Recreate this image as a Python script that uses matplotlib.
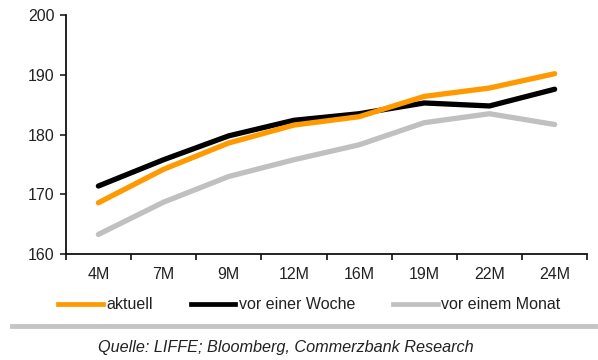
import matplotlib
matplotlib.use("Agg")
import matplotlib.pyplot as plt
from matplotlib.lines import Line2D

# data
tenors = ["4M", "7M", "9M", "12M", "16M", "19M", "22M", "24M"]
aktuell = [168.6, 174.2, 178.6, 181.6, 183.0, 186.4, 187.8, 190.2]
vor_woche = [171.4, 175.8, 179.8, 182.4, 183.5, 185.3, 184.8, 187.6]
vor_monat = [163.3, 168.7, 173.0, 175.8, 178.3, 182.0, 183.5, 181.7]

series = [
    ("aktuell", aktuell, "#FF9900"),
    ("vor einer Woche", vor_woche, "#000000"),
    ("vor einem Monat", vor_monat, "#C0C0C0"),
]

plt.rcParams['font.family'] = ['Liberation Sans', 'DejaVu Sans']

fig = plt.figure(figsize=(5.98, 3.6), dpi=100)
ax = fig.add_axes([0.110, 0.294, 0.872, 0.664])

x = list(range(len(tenors)))
# grey first so black/orange sit on top
for name, vals, col in reversed(series):
    ax.plot(x, vals, color=col, linewidth=3.8, solid_capstyle='round',
            solid_joinstyle='round', label=name)

ax.set_xlim(-0.5, len(tenors) - 0.5)
ax.set_ylim(160, 200)
ax.set_yticks([160, 170, 180, 190, 200])
ax.set_xticks(x)
ax.set_xticklabels(tenors)
ax.set_xticks([i - 0.5 for i in range(len(tenors) + 1)], minor=True)
ax.tick_params(axis='x', which='major', length=0, pad=9, labelsize=11.5, colors='#222222')
ax.tick_params(axis='x', which='minor', length=4, width=1.2, direction='out', color='#111111')
ax.tick_params(axis='y', length=4, width=1.2, direction='out', pad=4, labelsize=11.5,
               colors='#222222')
for s in ['top', 'right']:
    ax.spines[s].set_visible(False)
for s in ['left', 'bottom']:
    ax.spines[s].set_color('#111111')
    ax.spines[s].set_linewidth(1.3)

# legend below plot
handles = [Line2D([0], [0], color=c, linewidth=3.4) for _, _, c in series]
labels = [n for n, _, _ in series]
fig.legend(handles, labels, loc='center left', bbox_to_anchor=(58 / 598, 0.153),
           ncol=3, frameon=False, fontsize=11.5, handlelength=2.8,
           handletextpad=0.2, columnspacing=2.4, borderpad=0, borderaxespad=0,
           labelcolor='#222222')

# separator line and source
fig.add_artist(Line2D([0.02, 0.995], [0.095, 0.095], color='#C4C4C4', linewidth=3.5))
fig.text(0.478, 0.036, "Quelle: LIFFE; Bloomberg, Commerzbank Research",
         ha='center', va='center', fontsize=11.7, style='italic', color='#222222')

fig.savefig("out.png", dpi=100)
